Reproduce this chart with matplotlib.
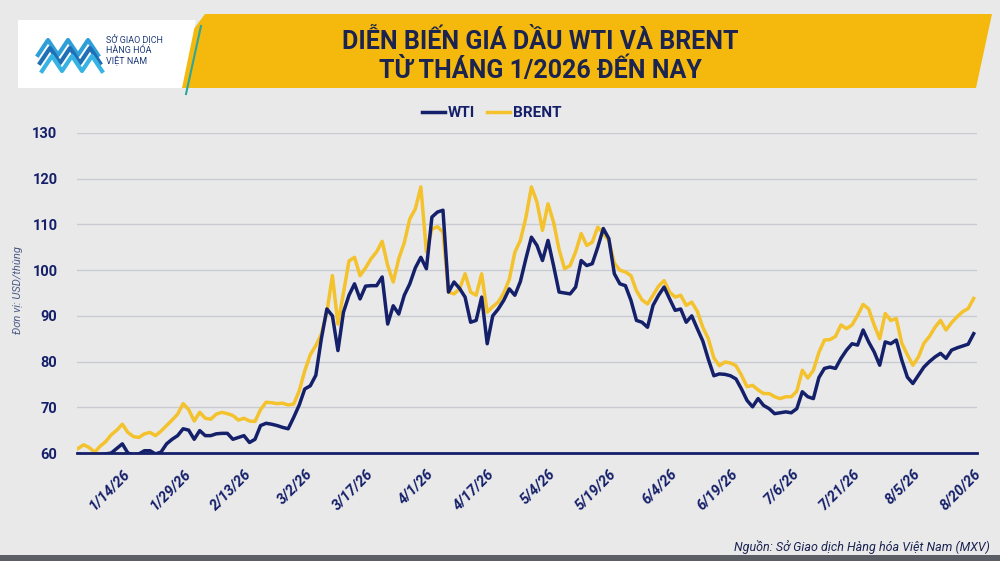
import numpy as np
import matplotlib
matplotlib.use("Agg")
import matplotlib.pyplot as plt
from matplotlib.patches import Polygon, Rectangle

plt.rcParams['font.family'] = ['Roboto', 'DejaVu Sans']

# data: one value per trading day, 1/2/26 .. 8/20/26
wti = [59.8, 59.5, 59.3, 59.5, 59.6, 59.8, 60.0, 61.0, 62.0, 60.0,
       59.6, 59.8, 60.5, 60.5, 59.8, 60.2, 62.0, 63.0, 63.8, 65.3,
       65.0, 63.0, 64.9, 63.8, 63.8, 64.2, 64.3, 64.3, 63.0, 63.4,
       63.8, 62.3, 63.0, 66.0, 66.5, 66.3, 66.0, 65.6, 65.3, 67.8,
       70.5, 74.0, 74.7, 77.0, 85.0, 91.5, 90.0, 82.4, 90.8, 94.5,
       97.0, 93.7, 96.5, 96.6, 96.6, 98.5, 88.2, 92.2, 90.4, 94.5,
       97.0, 100.5, 102.8, 100.3, 111.6, 112.7, 113.1, 95.2, 97.4, 96.0,
       94.1, 88.6, 89.0, 94.1, 83.9, 90.0, 91.5, 93.4, 95.9, 94.5,
       97.5, 102.5, 107.2, 105.4, 102.1, 106.5, 101.0, 95.2, 95.0, 94.8,
       96.3, 102.1, 101.0, 101.4, 105.0, 109.1, 106.9, 99.2, 97.0, 96.6,
       93.4, 89.0, 88.6, 87.5, 92.3, 94.5, 96.3, 93.7, 91.2, 91.5,
       88.6, 90.0, 87.2, 84.5, 80.5, 76.9, 77.3, 77.2, 76.9, 76.2,
       74.0, 71.5, 70.1, 71.9, 70.4, 69.7, 68.6, 68.8, 69.0, 68.8,
       69.7, 73.4, 72.3, 71.9, 76.5, 78.5, 78.8, 78.5, 80.7, 82.5,
       83.9, 83.6, 86.9, 84.3, 82.1, 79.2, 84.3, 83.9, 84.7, 80.3,
       76.6, 75.2, 77.0, 78.8, 80.0, 81.0, 81.8, 80.7, 82.5, 83.0,
       83.4, 83.8, 86.1]

brent = [61.0, 61.8, 61.2, 60.2, 61.5, 62.5, 64.0, 65.0, 66.3, 64.5,
         63.6, 63.4, 64.2, 64.5, 63.8, 64.8, 66.0, 67.2, 68.5, 70.8,
         69.5, 67.0, 68.9, 67.6, 67.4, 68.5, 68.9, 68.6, 68.2, 67.2,
         67.6, 67.0, 66.9, 69.5, 71.1, 71.0, 70.8, 70.9, 70.5, 70.7,
         73.6, 78.0, 81.5, 83.5, 86.0, 90.8, 98.8, 88.2, 95.0, 102.0,
         102.8, 98.8, 100.5, 102.5, 104.0, 106.3, 101.0, 97.4, 102.5, 106.0,
         111.2, 113.4, 118.2, 104.0, 109.0, 109.5, 108.3, 95.2, 94.8, 95.9,
         99.2, 95.2, 94.5, 99.2, 90.8, 92.0, 93.0, 95.0, 98.0, 103.9,
         106.5, 111.5, 118.2, 114.9, 108.7, 114.5, 110.5, 104.5, 100.3, 101.0,
         104.0, 108.0, 105.4, 106.1, 109.4, 108.0, 106.5, 101.5, 100.0, 99.6,
         98.8, 95.5, 93.5, 92.6, 94.5, 96.5, 97.7, 95.2, 94.1, 94.5,
         92.3, 93.0, 91.0, 87.5, 85.0, 80.8, 79.1, 79.9, 79.7, 79.1,
         77.0, 74.5, 74.8, 73.8, 73.0, 73.0, 72.3, 71.9, 72.3, 72.3,
         73.5, 78.1, 76.4, 78.1, 82.0, 84.7, 84.8, 85.5, 88.0, 87.2,
         88.0, 90.1, 92.5, 91.5, 88.0, 85.0, 90.5, 89.0, 89.4, 84.0,
         81.5, 79.2, 81.0, 84.0, 85.5, 87.5, 89.0, 86.9, 88.5, 89.8,
         90.9, 91.6, 93.8]

tick_labels = ['1/14/26', '1/29/26', '2/13/26', '3/2/26', '3/17/26', '4/1/26',
               '4/17/26', '5/4/26', '5/19/26', '6/4/26', '6/19/26', '7/6/26',
               '7/21/26', '8/5/26', '8/20/26']
tick_pos = [8, 19, 30, 41, 52, 63, 74, 85, 96, 107, 118, 129, 140, 151, 162]

navy = '#15206a'
gold = '#f3c22c'

fig = plt.figure(figsize=(10, 5.61), dpi=100)
fig.patch.set_facecolor('#e9e9ea')

# background / banner layer in pixel coordinates
bg = fig.add_axes([0, 0, 1, 1])
bg.set_xlim(0, 1000)
bg.set_ylim(561, 0)
bg.axis('off')
bg.set_zorder(-1)
bg.add_patch(Polygon([(205, 14), (992, 14), (976, 88), (150, 88)], closed=True,
                     facecolor='#f4b90c', edgecolor='none'))
bg.add_patch(Polygon([(18, 20), (196, 20), (182, 88), (18, 88)], closed=True,
                     facecolor='white', edgecolor='none'))
bg.plot([201, 186], [26, 94], color='#2aa7a0', lw=1.5)
# logo chevrons
for k, c in enumerate(['#2f9fd8', '#1e6fb5', '#36b3e3']):
    xs = np.array([38, 48, 58, 68, 78, 88, 98]) + k * 2
    ys = np.array([55, 40, 55, 40, 55, 40, 55]) + k * 8
    bg.plot(xs, ys, color=c, lw=3)
bg.text(106, 50, 'SỞ GIAO DỊCH\nHÀNG HÓA\nVIỆT NAM', fontsize=6.5, color='#1d3b78',
        va='center', ha='left', linespacing=1.1)
bg.text(540, 41, 'DIỄN BIẾN GIÁ DẦU WTI VÀ BRENT', fontsize=18, fontweight='bold',
        color='#1b2350', ha='center', va='center')
bg.text(540, 70, 'TỪ THÁNG 1/2026 ĐẾN NAY', fontsize=18, fontweight='bold',
        color='#1b2350', ha='center', va='center')
bg.add_patch(Rectangle((0, 555), 1000, 6, facecolor='#5c5f66', edgecolor='none'))
bg.text(990, 547, 'Nguồn: Sở Giao dịch Hàng hóa Việt Nam (MXV)', fontsize=9,
        fontstyle='italic', color='#1b2350', ha='right', va='center')
bg.text(18, 290, 'Đơn vị: USD/thùng', fontsize=8, fontstyle='italic',
        color='#4d5d85', rotation=90, ha='center', va='center')

ax = fig.add_axes([0.077, 0.1925, 0.9, 0.5705])
ax.patch.set_alpha(0)
x = np.arange(len(wti))
ax.plot(x, wti, color=navy, lw=2.5, label='WTI', solid_joinstyle='round', zorder=3)
ax.plot(x, brent, color=gold, lw=2.5, label='BRENT', solid_joinstyle='round', zorder=2)

ax.set_ylim(60, 130)
ax.set_xlim(-0.2, 162.6)
ax.set_yticks(range(60, 131, 10))
ax.grid(axis='y', color='#c9cbd0', lw=1)
ax.set_axisbelow(True)
for s in ['top', 'right', 'left']:
    ax.spines[s].set_visible(False)
ax.spines['bottom'].set_color(navy)
ax.spines['bottom'].set_linewidth(2)
ax.spines['bottom'].set_zorder(4)
ax.tick_params(length=0)
ax.set_xticks(tick_pos)
ax.set_xticklabels(tick_labels, rotation=45, ha='right', rotation_mode='anchor',
                   fontsize=10.5, fontweight='bold', fontstyle='italic', color=navy)
for lab in ax.get_yticklabels():
    lab.set_fontweight('bold')
    lab.set_color(navy)
    lab.set_fontsize(10.5)
ax.tick_params(axis='y', pad=14)
ax.tick_params(axis='x', pad=10)

leg = ax.legend(loc='center', bbox_to_anchor=(0.492, 0.798), bbox_transform=fig.transFigure,
                ncol=2, frameon=False, handlelength=1.5, handletextpad=0.2,
                columnspacing=0.8, prop={'weight': 'bold', 'size': 11})
for t in leg.get_texts():
    t.set_color(navy)

fig.savefig('out.png', dpi=100, facecolor=fig.get_facecolor())
